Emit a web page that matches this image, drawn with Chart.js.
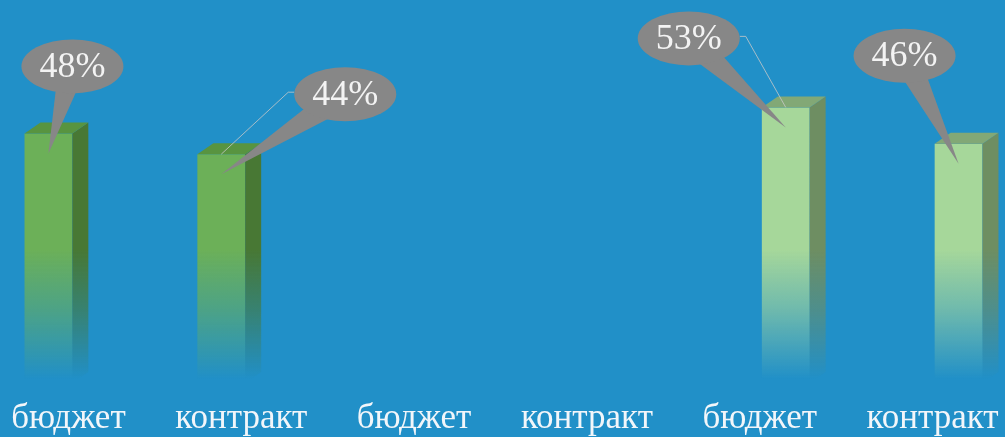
<!DOCTYPE html>
<html>
<head>
<meta charset="utf-8">
<script src="https://cdn.jsdelivr.net/npm/chart.js@4/dist/chart.umd.min.js"></script>
<style>
html, body { margin: 0; padding: 0; width: 1005px; height: 437px; overflow: hidden; background: #2190c8; }
#wrap { position: absolute; left: -15px; top: 0; width: 1037px; height: 437px; }
</style>
</head>
<body>
<div id="wrap"><canvas id="shareChart"></canvas></div>
<script>
const categories = ['бюджет', 'контракт', 'бюджет', 'контракт', 'бюджет', 'контракт'];
const greenValues = [48, 44, null, null, null, null];
const lightValues = [null, null, null, null, 53, 46];

// where each callout bubble sits, relative to the top of its bar
const calloutShift = [[24, -67], [124, -60], null, null, [-97, -69], [-54, -88]];
const leaderSide = [0, -1, 0, 0, 1, 0];

const faces = [
    { front: '108,176,88', side: '72,120,52', top: '88,148,64' },
    { front: '166,215,154', side: '110,142,98', top: '130,168,118' }
];
const depthX = 16, depthY = 11;

function fade(chart, rgb) {
    const area = chart.chartArea;
    if (!area) return `rgb(${rgb})`;
    const g = chart.ctx.createLinearGradient(0, area.bottom - 133, 0, area.bottom - 4);
    g.addColorStop(0, `rgba(${rgb},1)`);
    g.addColorStop(0.45, `rgba(${rgb},0.6)`);
    g.addColorStop(1, `rgba(${rgb},0)`);
    return g;
}

const bar3d = {
    id: 'bar3d',
    afterDatasetsDraw(chart) {
        const ctx = chart.ctx;
        chart.data.datasets.forEach((ds, di) => {
            const meta = chart.getDatasetMeta(di);
            meta.data.forEach((bar, i) => {
                if (ds.data[i] == null) return;
                const l = bar.x - bar.width / 2, r = bar.x + bar.width / 2;
                ctx.save();
                ctx.beginPath();
                ctx.moveTo(r, bar.y);
                ctx.lineTo(r + depthX, bar.y - depthY);
                ctx.lineTo(r + depthX, bar.base - depthY);
                ctx.lineTo(r, bar.base);
                ctx.closePath();
                ctx.fillStyle = fade(chart, faces[di].side);
                ctx.fill();
                ctx.beginPath();
                ctx.moveTo(l, bar.y);
                ctx.lineTo(l + depthX, bar.y - depthY);
                ctx.lineTo(r + depthX, bar.y - depthY);
                ctx.lineTo(r, bar.y);
                ctx.closePath();
                ctx.fillStyle = `rgb(${faces[di].top})`;
                ctx.fill();
                ctx.restore();
            });
        });
    },
    afterDraw(chart) {
        const ctx = chart.ctx;
        const rx = 51, ry = 27;
        chart.data.datasets.forEach((ds, di) => {
            const meta = chart.getDatasetMeta(di);
            meta.data.forEach((bar, i) => {
                if (ds.data[i] == null || !calloutShift[i]) return;
                const cx = bar.x + calloutShift[i][0];
                const cy = bar.y + calloutShift[i][1];
                const tipX = bar.x, tipY = bar.y + 20;
                ctx.save();
                // leader line
                if (leaderSide[i] !== 0) {
                    const sx = cx + leaderSide[i] * rx;
                    ctx.beginPath();
                    ctx.moveTo(sx, cy - 2);
                    ctx.lineTo(sx + leaderSide[i] * 6, cy - 2);
                    ctx.lineTo(bar.x, bar.y);
                    ctx.strokeStyle = 'rgba(200,200,200,0.8)';
                    ctx.lineWidth = 1;
                    ctx.stroke();
                }
                // pointer
                const ang = Math.atan2(tipY - cy, tipX - cx);
                const px = -Math.sin(ang) * 14, py = Math.cos(ang) * 14;
                ctx.beginPath();
                ctx.moveTo(cx + px, cy + py);
                ctx.lineTo(tipX, tipY);
                ctx.lineTo(cx - px, cy - py);
                ctx.closePath();
                ctx.fillStyle = '#878787';
                ctx.fill();
                ctx.beginPath();
                ctx.ellipse(cx, cy, rx, ry, 0, 0, Math.PI * 2);
                ctx.fill();
                ctx.fillStyle = '#f3f3f3';
                ctx.font = '36px "Liberation Serif"';
                ctx.textAlign = 'center';
                ctx.textBaseline = 'middle';
                ctx.fillText(ds.data[i] + '%', cx, cy + 1);
                ctx.restore();
            });
        });
    }
};

new Chart(document.getElementById('shareChart'), {
    type: 'bar',
    data: {
        labels: categories,
        datasets: [
            {
                data: greenValues,
                backgroundColor: (c) => fade(c.chart, faces[0].front),
                borderWidth: 0,
                categoryPercentage: 0.532,
                barPercentage: 1.04
            },
            {
                data: lightValues,
                backgroundColor: (c) => fade(c.chart, faces[1].front),
                borderWidth: 0,
                categoryPercentage: 0.532,
                barPercentage: 1.04
            }
        ]
    },
    options: {
        responsive: true,
        maintainAspectRatio: false,
        animation: false,
        layout: { padding: 0 },
        plugins: {
            legend: { display: false },
            tooltip: { enabled: false }
        },
        scales: {
            x: {
                grid: { display: false, drawTicks: false },
                border: { display: false },
                ticks: {
                    color: '#f2f6fa',
                    font: { family: 'Liberation Serif', size: 35 },
                    padding: 15,
                    labelOffset: -3,
                    maxRotation: 0,
                    autoSkip: false
                },
                afterFit: (scale) => { scale.height = 54; }
            },
            y: {
                display: false,
                min: 0,
                max: 73.65
            }
        }
    },
    plugins: [bar3d]
});
</script>
</body>
</html>
